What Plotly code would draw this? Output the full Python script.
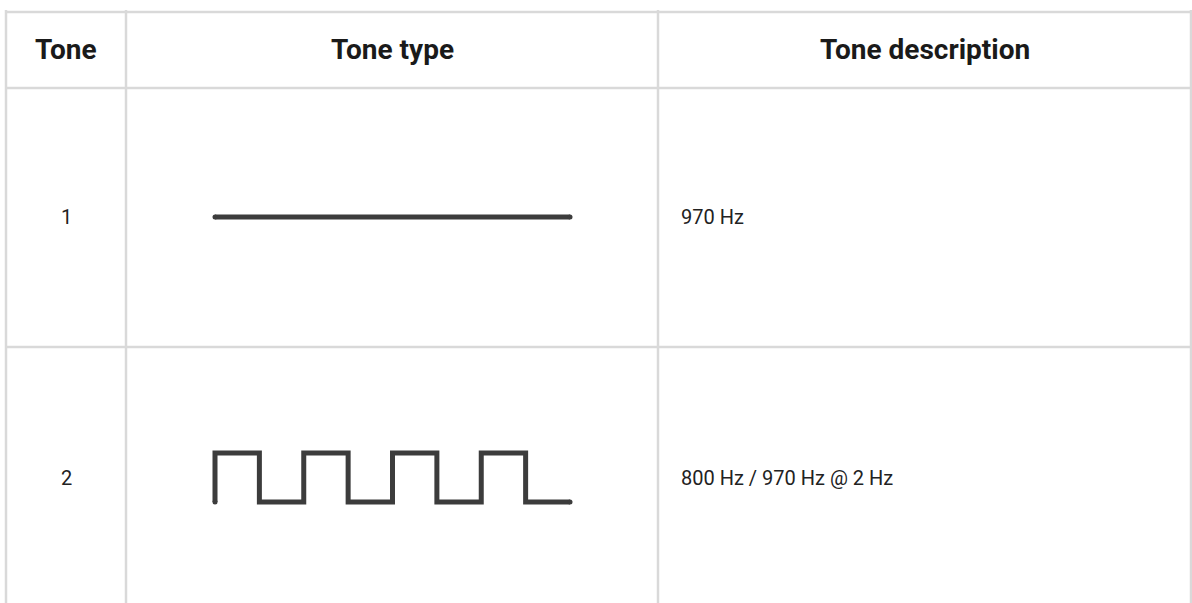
import plotly.graph_objects as go

W, H = 1192, 603

headers = ["Tone", "Tone type", "Tone description"]
tone_ids = ["1", "2"]
descriptions = ["970 Hz", "800 Hz / 970 Hz @ 2 Hz"]

# waveform 1: steady tone
wave1_x = [0, 8]
wave1_y = [0, 0]
# waveform 2: alternating tone (square wave, hv steps)
wave2_x = [0, 0, 1, 2, 3, 4, 5, 6, 7, 8]
wave2_y = [0, 1, 0, 1, 0, 1, 0, 1, 0, 0]

# layout geometry (pixels)
col_x = [6, 126, 658, 1191]
row_y = [12, 88, 347, 603]
border_color = "#d9d9d9"
wave_color = "#3c3c3c"
text_color = "#222222"

def fx(px):
    return px / W

def fy(py):
    return 1 - py / H

fig = go.Figure()

# wave axes geometry
wx0, wx1 = 215, 570
pad = 12
xr_per_px = 8 / (wx1 - wx0)
xrange = [0 - pad * xr_per_px, 8 + pad * xr_per_px]
xdomain = [fx(wx0 - pad), fx(wx1 + pad)]

# wave 1 at y=217
w1y = 217
y1domain = [fy(w1y + pad), fy(w1y - pad)]
y1range = [-1, 1]

# wave 2 top 453 (1), bottom 502 (0)
w2top, w2bot = 453, 502
yr_per_px = 1 / (w2bot - w2top)
y2domain = [fy(w2bot + pad), fy(w2top - pad)]
y2range = [0 - pad * yr_per_px, 1 + pad * yr_per_px]

fig.add_trace(go.Scatter(x=wave1_x, y=wave1_y, mode="lines",
                         line=dict(color=wave_color, width=5),
                         xaxis="x", yaxis="y", hoverinfo="skip", showlegend=False))
fig.add_trace(go.Scatter(x=[wave1_x[0], wave1_x[-1]], y=[wave1_y[0], wave1_y[-1]], mode="markers",
                         marker=dict(color=wave_color, size=5, line=dict(width=0)),
                         xaxis="x", yaxis="y", hoverinfo="skip", showlegend=False))
fig.add_trace(go.Scatter(x=wave2_x, y=wave2_y, mode="lines",
                         line=dict(color=wave_color, width=5, shape="hv"),
                         xaxis="x2", yaxis="y2", hoverinfo="skip", showlegend=False))
fig.add_trace(go.Scatter(x=[wave2_x[0], wave2_x[-1]], y=[wave2_y[0], wave2_y[-1]], mode="markers",
                         marker=dict(color=wave_color, size=5, line=dict(width=0)),
                         xaxis="x2", yaxis="y2", hoverinfo="skip", showlegend=False))

axis_common = dict(visible=False, showgrid=False, zeroline=False, fixedrange=True)
fig.update_layout(
    xaxis=dict(domain=xdomain, range=xrange, anchor="y", **axis_common),
    yaxis=dict(domain=y1domain, range=y1range, anchor="x", **axis_common),
    xaxis2=dict(domain=xdomain, range=xrange, anchor="y2", **axis_common),
    yaxis2=dict(domain=y2domain, range=y2range, anchor="x2", **axis_common),
)

shapes = []
# horizontal borders
for yy in row_y[:3]:
    shapes.append(dict(type="line", xref="paper", yref="paper",
                       x0=fx(col_x[0]), x1=fx(col_x[-1] + 1), y0=fy(yy), y1=fy(yy),
                       line=dict(color=border_color, width=2.5)))
# vertical borders
for xx in col_x:
    shapes.append(dict(type="line", xref="paper", yref="paper",
                       x0=fx(xx), x1=fx(xx), y0=fy(10), y1=fy(H + 2),
                       line=dict(color=border_color, width=2.5)))

annotations = []
header_y = (row_y[0] + row_y[1]) / 2
for i, h in enumerate(headers):
    cx = (col_x[i] + col_x[i + 1]) / 2
    annotations.append(dict(x=fx(cx), y=fy(header_y), xref="paper", yref="paper",
                            text=h, showarrow=False, xanchor="center", yanchor="middle",
                            font=dict(family="Roboto", size=28, color="#1a1a1a", weight=700)))
row_centers = [w1y, (w2top + w2bot) / 2]
for i in range(2):
    annotations.append(dict(x=fx((col_x[0] + col_x[1]) / 2), y=fy(row_centers[i]),
                            xref="paper", yref="paper", text=tone_ids[i], showarrow=False,
                            xanchor="center", yanchor="middle",
                            font=dict(family="Roboto", size=20, color=text_color)))
    annotations.append(dict(x=fx(679), y=fy(row_centers[i]), xref="paper", yref="paper",
                            text=descriptions[i], showarrow=False,
                            xanchor="left", yanchor="middle",
                            font=dict(family="Roboto", size=20, color=text_color)))

fig.update_layout(
    width=W, height=H, margin=dict(l=0, r=0, t=0, b=0),
    paper_bgcolor="white", plot_bgcolor="rgba(0,0,0,0)",
    shapes=shapes, annotations=annotations, showlegend=False,
)

fig.write_html("out.html", config={"displayModeBar": False},
               post_script="document.body.style.margin='0';document.body.style.overflow='hidden';")
